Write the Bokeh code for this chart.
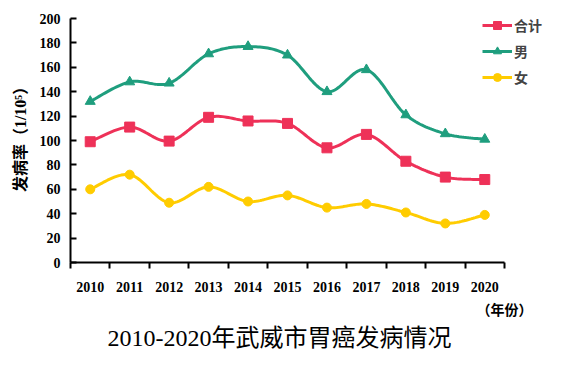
import numpy as np
from bokeh.plotting import figure
from bokeh.models import Range1d, FixedTicker, Legend, LegendItem, Title
from bokeh.embed import file_html
from bokeh.resources import INLINE

years = ["2010", "2011", "2012", "2013", "2014", "2015", "2016", "2017", "2018", "2019", "2020"]
total = [99, 111, 99.5, 119, 116, 114, 94, 105, 83, 70, 68]
male = [132, 148, 147, 171, 177, 170, 140, 158, 121, 105.5, 101]
female = [60, 72, 49, 62, 50, 55, 45, 48, 41, 32, 39]
yticks = list(range(0, 201, 20))

series = [
    ("合计", total, "#EE3158", "square", 10),
    ("男", male, "#1F9E7E", "triangle", 10),
    ("女", female, "#FFCC00", "circle", 9),
]


def smooth(xs, ys, n=20, t=0.5):
    xs = np.asarray(xs, float)
    ys = np.asarray(ys, float)
    px = np.concatenate([[xs[0]], xs, [xs[-1]]])
    py = np.concatenate([[ys[0]], ys, [ys[-1]]])
    ox, oy = [], []
    for i in range(1, len(px) - 2):
        p0x, p1x, p2x, p3x = px[i - 1], px[i], px[i + 1], px[i + 2]
        p0y, p1y, p2y, p3y = py[i - 1], py[i], py[i + 1], py[i + 2]
        m1x, m1y = t * (p2x - p0x), t * (p2y - p0y)
        m2x, m2y = t * (p3x - p1x), t * (p3y - p1y)
        s = np.linspace(0, 1, n, endpoint=(i == len(px) - 3))
        h00 = 2 * s**3 - 3 * s**2 + 1
        h10 = s**3 - 2 * s**2 + s
        h01 = -2 * s**3 + 3 * s**2
        h11 = s**3 - s**2
        ox.extend(h00 * p1x + h10 * m1x + h01 * p2x + h11 * m2x)
        oy.extend(h00 * p1y + h10 * m1y + h01 * p2y + h11 * m2y)
    return ox, oy


W, H = 557, 367
n = len(years)
# frame spans 70..549 px horizontally; 11 categories over 434 px
x_end = -0.5 + (549 - 70) / (434 / n)
# y: 0 at 262 px, 200 at 18 px; frame extends to 8 px so the legend is not clipped
y_end = (262 - 8) / (244 / 200)
p = figure(width=W, height=H, output_backend="svg", toolbar_location=None,
           x_range=Range1d(-0.5, x_end), y_range=Range1d(0, y_end),
           min_border_left=70, min_border_right=W - 549, min_border_top=8, min_border_bottom=H - 262)
p.background_fill_color = "white"
p.border_fill_color = "white"
p.outline_line_color = None
p.xgrid.grid_line_color = None
p.ygrid.grid_line_color = None

xs = list(range(n))
items = []
for name, vals, col, marker, size in series:
    sx, sy = smooth(xs, vals)
    r1 = p.line(sx, sy, line_color=col, line_width=3)
    r2 = p.scatter(xs, vals, marker=marker, size=size, fill_color=col, line_color=col)
    items.append(LegendItem(label=name, renderers=[r1, r2]))

legend = Legend(items=items, location=(412, 175), padding=0, margin=0, spacing=6,
                glyph_width=30, glyph_height=20, label_height=20, label_standoff=2,
                label_text_font="Noto Sans CJK SC", label_text_font_style="bold",
                label_text_font_size="14px",
                background_fill_alpha=0, border_line_color=None)
p.add_layout(legend, "center")

# x axis
xa = p.xaxis[0]
xa.bounds = (-0.5, n - 0.5)
xa.ticker = FixedTicker(ticks=xs, minor_ticks=[i - 0.5 for i in range(n + 1)])
xa.major_label_overrides = {i: y for i, y in enumerate(years)}
xa.major_tick_in = 0
xa.major_tick_out = 0
xa.minor_tick_in = 0
xa.minor_tick_out = 6
xa.minor_tick_line_color = "black"
xa.minor_tick_line_width = 2
xa.axis_line_width = 2
xa.axis_line_color = "black"
xa.major_label_standoff = 13
xa.major_label_text_font = "Liberation Serif"
xa.major_label_text_font_style = "bold"
xa.major_label_text_font_size = "14px"
xa.major_label_text_color = "black"

# y axis
ya = p.yaxis[0]
ya.bounds = (0, 200)
ya.ticker = FixedTicker(ticks=yticks)
ya.major_tick_in = 6
ya.major_tick_out = 0
ya.major_tick_line_width = 2
ya.major_tick_line_color = "black"
ya.minor_tick_line_color = None
ya.axis_line_width = 2
ya.axis_line_color = "black"
ya.major_label_standoff = 10
ya.major_label_text_font = "Liberation Serif"
ya.major_label_text_font_style = "bold"
ya.major_label_text_font_size = "14px"
ya.major_label_text_color = "black"
ya.axis_label = "发病率（1/10⁵）"
ya.axis_label_text_font = "Liberation Serif, Noto Sans CJK SC"
ya.axis_label_text_font_style = "bold"
ya.axis_label_text_font_size = "16px"
ya.axis_label_text_color = "black"
ya.axis_label_standoff = 8

p.add_layout(Title(text="（年份）", align="left", offset=406, standoff=4,
                   text_font="Noto Sans CJK SC", text_font_style="bold", text_font_size="14px",
                   text_color="black"), "below")
p.add_layout(Title(text="2010-2020年武威市胃癌发病情况", align="left", offset=37, standoff=4,
                   text_font="Liberation Serif, Noto Sans CJK SC", text_font_style="normal",
                   text_font_size="24px", text_color="black"), "below")

open("out.html", "w").write(file_html(p, INLINE))
